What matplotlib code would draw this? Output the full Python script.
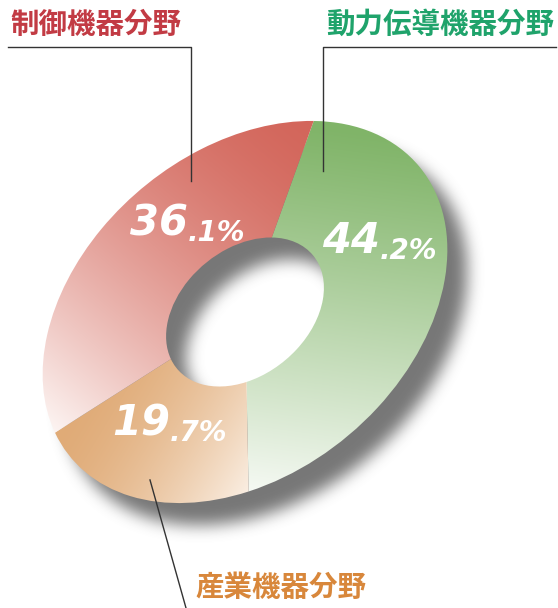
import numpy as np
import matplotlib
matplotlib.use('Agg')
import matplotlib.pyplot as plt
from matplotlib.transforms import Affine2D
from matplotlib.colors import to_rgb

plt.rcParams['font.family'] = ['Noto Sans CJK JP', 'DejaVu Sans']

W, H = 558, 608

# data: share of sales by field (clockwise from the top)
sectors = ['動力伝導機器分野', '産業機器分野', '制御機器分野']
shares = [44.2, 19.7, 36.1]

# styles
label_colors = ['#1fa36b', '#d8873b', '#c23b44']
grad_start = ['#80b468', '#e0ab77', '#d3665b']
grad_end = ['#f5f9f3', '#fbf0e5', '#fdf6f4']
grad_power = [1.1, 1.6, 1.5]
grad_from = [(300, 485), (80, 215), (310, 485)]
grad_to = [(250, 118), (250, 112), (50, 175)]

name_pos = [(554, 583, 'right'), (195, 20, 'left'), (10, 583, 'left')]
pct_pos = [(322, 355), (112, 173), (130, 373)]
# leader anchor inside each wedge (angle in degrees, radius) in ring space
leader_anchor = [(28.4, 0.754), (207.8, 0.90), (77.3, 0.86)]


def blur(a, r, axis):
    """box blur along one axis"""
    a = np.moveaxis(a, axis, 0)
    p = np.concatenate([np.repeat(a[:1], r + 1, 0), a, np.repeat(a[-1:], r, 0)], 0)
    c = np.cumsum(p, 0)
    out = (c[2 * r + 1:] - c[:-2 * r - 1]) / (2 * r + 1)
    return np.moveaxis(out, 0, axis)


fig = plt.figure(figsize=(W / 100, H / 100), dpi=100)
ax = fig.add_axes([0, 0, 1, 1])

# the donut is a unit pie squashed and tilted
ring = Affine2D().scale(227, 161).rotate_deg(40).translate(245, 296)
hole = 0.39

wedges, _ = ax.pie(shares, startangle=39.4, counterclock=False,
                   wedgeprops=dict(width=1 - hole, linewidth=0))
for w in wedges:
    w.set_transform(ring + ax.transData)
    w.set_facecolor('none')

# pixel grid
X, Y = np.meshgrid(np.arange(W) + 0.5, np.arange(H) + 0.5)
inv = ring.inverted()

# drop shadow (down and to the right)
u = inv.transform(np.column_stack([X.ravel() - 20, Y.ravel() + 22]))
rho = np.hypot(u[:, 0], u[:, 1]).reshape(X.shape)
m = ((rho <= 1) & (rho >= hole)).astype(float)
for _ in range(3):
    m = blur(m, 7, 0)
    m = blur(m, 7, 1)
shadow = np.zeros((H, W, 4))
shadow[..., :3] = 0.42
shadow[..., 3] = m * 0.92
ax.imshow(shadow, extent=(0, W, 0, H), origin='lower', zorder=1, aspect='auto')

# gradient fill of each wedge
for w, c0, c1, g, p0, p1 in zip(wedges, grad_start, grad_end, grad_power, grad_from, grad_to):
    d = np.subtract(p1, p0)
    t = ((X - p0[0]) * d[0] + (Y - p0[1]) * d[1]) / (d @ d)
    t = (np.clip(t, 0, 1) ** g)[..., None]
    img = (1 - t) * np.array(to_rgb(c0)) + t * np.array(to_rgb(c1))
    im = ax.imshow(img, extent=(0, W, 0, H), origin='lower', zorder=2, aspect='auto')
    im.set_clip_path(w)

# names and leader lines
for i, name in enumerate(sectors):
    x, y, ha = name_pos[i]
    ax.text(x, y, name, ha=ha, va='center', fontsize=20.5, fontweight='bold',
            color=label_colors[i], zorder=5)
    ang, rad = leader_anchor[i]
    ax_, ay_ = ring.transform((rad * np.cos(np.radians(ang)), rad * np.sin(np.radians(ang))))
    if i == 1:
        ax.plot([ax_, 186], [ay_, 0], color='#333333', lw=1, zorder=4)
    else:
        ax.plot([x + (2 if ha == 'right' else -2), ax_, ax_], [561, 561, ay_],
                color='#333333', lw=1, zorder=4)

# percentages
for (x, y), v in zip(pct_pos, shares):
    s = f'{v:.1f}%'
    big, small = s.split('.')
    t = ax.text(x, y, big, ha='left', va='baseline', fontsize=30, color='white',
                fontweight='bold', fontstyle='italic', family='DejaVu Sans', zorder=6)
    ax.annotate('.' + small, xy=(1, 0), xycoords=t, xytext=(0, -2.5),
                textcoords='offset points', ha='left', va='bottom', fontsize=20,
                color='white', fontweight='bold', fontstyle='italic',
                family='DejaVu Sans', zorder=6)

ax.set_xlim(0, W)
ax.set_ylim(0, H)
ax.axis('off')
fig.savefig('out.png', dpi=100)
